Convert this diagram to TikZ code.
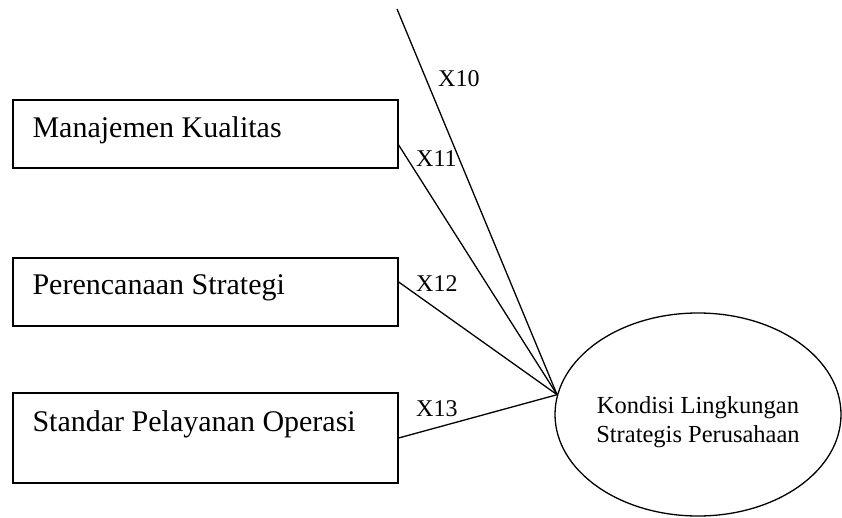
\documentclass[tikz,border=0pt]{standalone}
\usepackage{fontspec}
\setmainfont{Liberation Serif}
\usetikzlibrary{shapes.geometric}
\tikzset{
  kotak/.style={draw,line width=1.3pt,minimum width=385pt,inner sep=0pt},
  teks/.style={anchor=base west,inner sep=0pt,font=\fontsize{30}{36}\selectfont},
  jalur/.style={line width=1.3pt},
  kode/.style={anchor=base west,inner sep=0pt,font=\fontsize{24}{29}\selectfont}
}
\begin{document}
\begin{tikzpicture}[x=1pt,y=-1pt]
        \useasboundingbox (0,0) rectangle (842,518);
        %% Variabel bebas
        \node[kotak,minimum height=68pt] (MK) at (205.5,134) {};
        \node[kotak,minimum height=68pt] (PS) at (205.5,292) {};
        \node[kotak,minimum height=90pt] (SP) at (205.5,438) {};
        \node[teks] (tMK) at ([xshift=20pt,yshift=-38pt]MK.north west) {Manajemen Kualitas};
        \node[teks] (tPS) at ([xshift=20pt,yshift=-37pt]PS.north west) {Perencanaan Strategi};
        \node[teks] (tSP) at ([xshift=20pt,yshift=-39pt]SP.north west) {Standar Pelayanan Operasi};
        %% Variabel terikat
        \node[ellipse,draw,line width=1.3pt,minimum width=286pt,minimum height=203pt,inner sep=0pt] (KL) at (698,414.5) {};
        \node[align=center,inner sep=0pt,font=\fontsize{24.5}{29}\selectfont] (tKL) at ([yshift=-8pt]KL.center) {Kondisi Lingkungan\\Strategis Perusahaan};
        %% Jalur
        \coordinate (atas) at (397,9);
        \draw[jalur] (atas) -- (KL.172);
        \draw[jalur] ([yshift=-11pt]MK.east) -- (KL.172);
        \draw[jalur] ([yshift=10pt]PS.east) -- (KL.172);
        \draw[jalur] (SP.east) -- (KL.172);
        %% Label jalur
        \node[kode] (x10) at (438,87) {X10};
        \node[kode] (x11) at (416,167) {X11};
        \node[kode] (x12) at (416,291) {X12};
        \node[kode] (x13) at (416,416) {X13};
    \end{tikzpicture}
\end{document}
